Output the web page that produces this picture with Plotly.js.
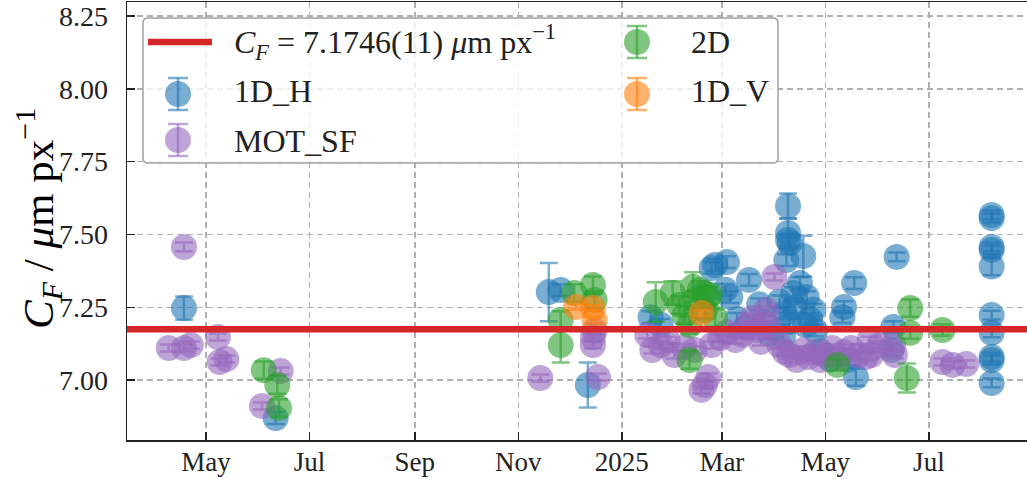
<!DOCTYPE html>
<html>
<head>
<meta charset="utf-8">
<script src="https://cdn.plot.ly/plotly-3.0.1.min.js"></script>
<style>html,body{margin:0;padding:0;background:#fff;}#chart{width:1027px;height:479px;}</style>
</head>
<body>
<div id="chart"></div>
<script>
// ---------- data ----------
const xRange = ['2024-03-15 10:00', '2025-08-27 20:00'];
const yRange = [6.794, 8.2985];
const cfValue = 7.1746;
const cfLabel = '<i>C<sub>F</sub></i> = 7.1746(11) <i>μ</i>m px<sup>−1</sup>';
const yTitle = '<i>C<sub>F</sub></i> / <i>μ</i>m px<sup>−1</sup>';

const tickDates = ['2024-05-01','2024-07-01','2024-09-01','2024-11-01','2025-01-01','2025-03-01','2025-05-01','2025-07-01'];
const tickLabels = ['May','Jul','Sep','Nov','2025','Mar','May','Jul'];
const yTicks = [7.00, 7.25, 7.50, 7.75, 8.00, 8.25];

// 1D_H
const hDates = ['2024-04-18','2024-06-11',
  '2024-11-19','2024-11-26','2024-12-12',
  '2025-01-18','2025-01-24','2025-02-19','2025-02-23','2025-02-25','2025-03-04','2025-03-03','2025-03-06','2025-03-10','2025-03-15','2025-03-17','2025-03-23','2025-03-26','2025-03-29',
  '2025-04-09','2025-04-09','2025-04-09','2025-04-10','2025-04-18','2025-04-08','2025-04-16','2025-04-12','2025-04-20','2025-04-24','2025-04-04','2025-04-07','2025-04-10','2025-04-13','2025-04-19','2025-04-22','2025-04-25','2025-04-06','2025-04-28','2025-05-04',
  '2025-05-18','2025-05-12','2025-05-11','2025-05-19','2025-05-15','2025-06-12','2025-06-10','2025-06-09',
  '2025-08-07','2025-08-07','2025-08-07','2025-08-07','2025-08-07','2025-08-07','2025-08-07','2025-08-07','2025-08-07','2025-08-07'];
const hValues = [7.247, 6.869,
  7.302, 7.309, 6.983,
  7.216, 7.190, 7.300, 7.385, 7.395, 7.405, 7.310, 7.285, 7.210, 7.180, 7.344, 7.260, 7.200, 7.160,
  7.598, 7.505, 7.481, 7.471, 7.426, 7.412, 7.333, 7.299, 7.285, 7.241, 7.270, 7.230, 7.200, 7.250, 7.190, 7.210, 7.170, 7.150, 7.100, 7.070,
  7.333, 7.251, 7.216, 7.010, 7.070, 7.423, 7.182, 7.103,
  7.567, 7.556, 7.457, 7.447, 7.390, 7.223, 7.162, 7.079, 7.069, 6.990];
const hErrors = [0.04, 0.02,
  0.10, 0.02, 0.077,
  0.02, 0.02, 0.02, 0.02, 0.02, 0.02, 0.02, 0.02, 0.02, 0.02, 0.02, 0.02, 0.02, 0.02,
  0.043, 0.05, 0.02, 0.02, 0.07, 0.02, 0.02, 0.02, 0.02, 0.02, 0.02, 0.02, 0.02, 0.02, 0.02, 0.02, 0.02, 0.02, 0.02, 0.02,
  0.02, 0.02, 0.02, 0.03, 0.02, 0.015, 0.02, 0.02,
  0.015, 0.015, 0.015, 0.015, 0.03, 0.015, 0.015, 0.015, 0.015, 0.015];

// MOT_SF
const pDates = ['2024-04-18','2024-04-09','2024-04-18','2024-04-22','2024-05-08','2024-05-09','2024-05-13','2024-06-14','2024-06-03',
  '2024-11-14','2024-12-15','2024-12-15','2024-12-18','2024-12-16',
  '2025-01-16','2025-01-19','2025-01-24','2025-01-28','2025-02-01','2025-02-07','2025-02-13','2025-02-17','2025-02-19','2025-02-21','2025-02-23','2025-02-28','2025-03-04','2025-03-09','2025-03-13','2025-03-16','2025-03-19','2025-03-22','2025-03-24','2025-03-28','2025-04-01','2025-03-27',
  '2025-04-04','2025-04-07','2025-04-10','2025-04-14','2025-04-18','2025-04-21','2025-04-25','2025-04-28','2025-05-01','2025-05-05','2025-05-08','2025-05-12','2025-05-16','2025-05-20','2025-05-25','2025-05-28','2025-05-27','2025-06-02','2025-06-11','2025-06-10',
  '2025-07-09','2025-07-15','2025-07-23'];
const pValues = [7.457, 7.110, 7.110, 7.120, 7.148, 7.062, 7.072, 7.031, 6.911,
  7.007, 7.148, 7.120, 7.010, 7.170,
  7.155, 7.103, 7.120, 7.137, 7.086, 7.113, 7.103, 6.966, 6.983, 7.010, 7.120, 7.144, 7.165, 7.137, 7.155, 7.189, 7.213, 7.172, 7.131, 7.189, 7.354, 7.241,
  7.120, 7.096, 7.086, 7.069, 7.103, 7.079, 7.096, 7.069, 7.086, 7.110, 7.076, 7.096, 7.110, 7.086, 7.079, 7.086, 7.137, 7.120, 7.086, 7.120,
  7.062, 7.052, 7.055];
const pErrors = [0.015, 0.012, 0.012, 0.012, 0.012, 0.012, 0.012, 0.012, 0.012,
  0.012, 0.012, 0.012, 0.012, 0.012,
  0.012, 0.012, 0.012, 0.012, 0.012, 0.012, 0.012, 0.012, 0.012, 0.012, 0.012, 0.012, 0.012, 0.012, 0.012, 0.012, 0.012, 0.012, 0.012, 0.012, 0.012, 0.012,
  0.012, 0.012, 0.012, 0.012, 0.012, 0.012, 0.012, 0.012, 0.012, 0.012, 0.012, 0.012, 0.012, 0.012, 0.012, 0.012, 0.012, 0.012, 0.012, 0.012,
  0.012, 0.012, 0.012];

// 2D
const gDates = ['2024-06-04','2024-06-12','2024-06-13',
  '2024-12-04','2024-11-26','2024-11-26','2024-12-15','2024-12-16',
  '2025-01-21','2025-01-31','2025-02-12','2025-02-04','2025-02-07','2025-02-10','2025-02-13','2025-02-16','2025-02-19','2025-02-22','2025-02-20','2025-02-25','2025-02-10',
  '2025-05-08','2025-06-20','2025-06-20','2025-06-18','2025-07-09'];
const gValues = [7.034, 6.983, 6.904,
  7.299, 7.206, 7.120, 7.326, 7.275,
  7.268, 7.299, 7.320, 7.258, 7.223, 7.189, 7.275, 7.309, 7.241, 7.292, 7.285, 7.213, 7.069,
  7.052, 7.247, 7.162, 7.007, 7.172];
const gErrors = [0.03, 0.03, 0.03,
  0.03, 0.03, 0.06, 0.03, 0.03,
  0.068, 0.04, 0.05, 0.03, 0.03, 0.03, 0.03, 0.03, 0.03, 0.03, 0.03, 0.03, 0.03,
  0.02, 0.03, 0.02, 0.05, 0.02];

// 1D_V
const oDates = ['2024-12-05','2024-12-15','2024-12-16','2025-02-17'];
const oValues = [7.251, 7.247, 7.206, 7.230];
const oErrors = [0.01, 0.01, 0.01, 0.01];

// ---------- styling ----------
const FONT = 'Liberation Serif, Times New Roman, serif';
const TXT = '#222222';
const C_H = '#1f77b4', C_P = '#9467bd', C_G = '#2ca02c', C_O = '#ff7f0e', C_R = '#d62728';
function rgba(hex, a) {
  const n = parseInt(hex.slice(1), 16);
  return 'rgba(' + ((n >> 16) & 255) + ',' + ((n >> 8) & 255) + ',' + (n & 255) + ',' + a + ')';
}
function series(name, x, y, e, color) {
  return {
    type: 'scatter', mode: 'markers', name: name, x: x, y: y, showlegend: false,
    marker: {size: 26, color: color, opacity: 0.6, line: {width: 0}},
    error_y: {type: 'data', array: e, visible: true, color: rgba(color, 0.6), thickness: 2.5, width: 9},
    hoverinfo: 'x+y'
  };
}
// legend-only entries (symbols drawn as larger shapes below the legend text)
function legendEntry(name, legend, rank) {
  return {
    type: 'scatter', mode: 'markers', name: name, x: [null], y: [null],
    legend: legend, legendgroup: name, legendrank: rank, showlegend: true,
    marker: {size: 10, color: 'rgba(0,0,0,0)'}, hoverinfo: 'skip'
  };
}

const traces = [
  series('1D_H', hDates, hValues, hErrors, C_H),
  series('MOT_SF', pDates, pValues, pErrors, C_P),
  series('2D', gDates, gValues, gErrors, C_G),
  series('1D_V', oDates, oValues, oErrors, C_O),
  {
    type: 'scatter', mode: 'lines', name: cfLabel, showlegend: false,
    x: xRange, y: [cfValue, cfValue],
    line: {color: C_R, width: 6.5}, hoverinfo: 'skip'
  },
  legendEntry(cfLabel, 'legend', 1),
  legendEntry('1D_H', 'legend', 2),
  legendEntry('MOT_SF', 'legend', 3),
  legendEntry('2D', 'legend2', 1),
  legendEntry('1D_V', 'legend2', 2)
];

// ---------- geometry helpers (paper coordinates) ----------
const W = 1027, H = 479, ML = 127, MR = 0, MT = 2, MB = 39;
const PW = W - ML - MR, PH = H - MT - MB;
function px2paperX(px) { return (px - ML) / PW; }
function px2paperY(py) { return (H - MB - py) / PH; }

const bx0 = px2paperX(143), bx1 = px2paperX(778), by1 = px2paperY(18), by0 = px2paperY(163);
const rx = 5 / PW, ry = 5 / PH;
const framePath = 'M' + (bx0 + rx) + ',' + by1 + ' L' + (bx1 - rx) + ',' + by1 +
  ' Q' + bx1 + ',' + by1 + ' ' + bx1 + ',' + (by1 - ry) +
  ' L' + bx1 + ',' + (by0 + ry) + ' Q' + bx1 + ',' + by0 + ' ' + (bx1 - rx) + ',' + by0 +
  ' L' + (bx0 + rx) + ',' + by0 + ' Q' + bx0 + ',' + by0 + ' ' + bx0 + ',' + (by0 + ry) +
  ' L' + bx0 + ',' + (by1 - ry) + ' Q' + bx0 + ',' + by1 + ' ' + (bx0 + rx) + ',' + by1 + ' Z';

const shapes = [{
  type: 'path', xref: 'paper', yref: 'paper', path: framePath, layer: 'above',
  fillcolor: 'rgba(255,255,255,0.8)', line: {color: '#a0a0a0', width: 1.5}
}];
// legend handles
shapes.push({type: 'line', xref: 'paper', yref: 'paper', layer: 'above',
  x0: px2paperX(148), x1: px2paperX(212), y0: px2paperY(42), y1: px2paperY(42),
  line: {color: C_R, width: 6.5}});
function handle(cx, cy, color) {
  const r = 13, e = 16, cw = 10;
  const col = rgba(color, 0.6);
  shapes.push({type: 'circle', xref: 'paper', yref: 'paper', layer: 'above',
    x0: px2paperX(cx - r), x1: px2paperX(cx + r), y0: px2paperY(cy + r), y1: px2paperY(cy - r),
    fillcolor: col, line: {width: 0}});
  shapes.push({type: 'line', xref: 'paper', yref: 'paper', layer: 'above',
    x0: px2paperX(cx), x1: px2paperX(cx), y0: px2paperY(cy + e), y1: px2paperY(cy - e),
    line: {color: col, width: 2.5}});
  [cy - e, cy + e].forEach(function (yy) {
    shapes.push({type: 'line', xref: 'paper', yref: 'paper', layer: 'above',
      x0: px2paperX(cx - cw), x1: px2paperX(cx + cw), y0: px2paperY(yy), y1: px2paperY(yy),
      line: {color: col, width: 2.5}});
  });
}
handle(178, 94, C_H);
handle(178, 140, C_P);
handle(637, 42, C_G);
handle(637, 94, C_O);

const legendCommon = {
  bgcolor: 'rgba(0,0,0,0)', borderwidth: 0, orientation: 'v',
  font: {family: FONT, size: 32, color: TXT},
  itemwidth: 60, tracegroupgap: 5, traceorder: 'grouped',
  xanchor: 'left', yanchor: 'top', itemclick: false, itemdoubleclick: false
};

const layout = {
  width: W, height: H,
  margin: {l: ML, r: MR, t: MT, b: MB, pad: 0},
  paper_bgcolor: '#ffffff', plot_bgcolor: '#ffffff',
  font: {family: FONT, size: 28, color: TXT},
  showlegend: true,
  legend: Object.assign({}, legendCommon, {x: px2paperX(164), y: px2paperY(13)}),
  legend2: Object.assign({}, legendCommon, {x: px2paperX(621), y: px2paperY(13)}),
  xaxis: {
    type: 'date', range: xRange,
    tickmode: 'array', tickvals: tickDates, ticktext: tickLabels,
    ticks: 'inside', ticklen: 8, tickwidth: 1.5, tickcolor: TXT,
    showline: true, linecolor: TXT, linewidth: 1.5, mirror: true,
    showgrid: true, gridcolor: '#b0b0b0', gridwidth: 1.5, griddash: '6px,4px',
    zeroline: false, tickfont: {family: FONT, size: 27, color: TXT},
    ticklabelstandoff: -3
  },
  yaxis: {
    range: yRange, tickmode: 'array', tickvals: yTicks, tickformat: '.2f',
    ticks: 'inside', ticklen: 8, tickwidth: 1.5, tickcolor: TXT,
    showline: true, linecolor: TXT, linewidth: 1.5, mirror: false,
    showgrid: true, gridcolor: '#b0b0b0', gridwidth: 1.5, griddash: '6px,4px',
    zeroline: false, tickfont: {family: FONT, size: 28, color: TXT},
    ticklabelstandoff: 12
  },
  annotations: [{
    text: yTitle, xref: 'paper', yref: 'paper', x: px2paperX(39), y: px2paperY(219),
    xanchor: 'center', yanchor: 'middle', textangle: -90, showarrow: false,
    font: {family: FONT, size: 43, color: '#000'}
  }],
  shapes: shapes
};

Plotly.newPlot('chart', traces, layout, {displayModeBar: false, staticPlot: true});
</script>
</body>
</html>
